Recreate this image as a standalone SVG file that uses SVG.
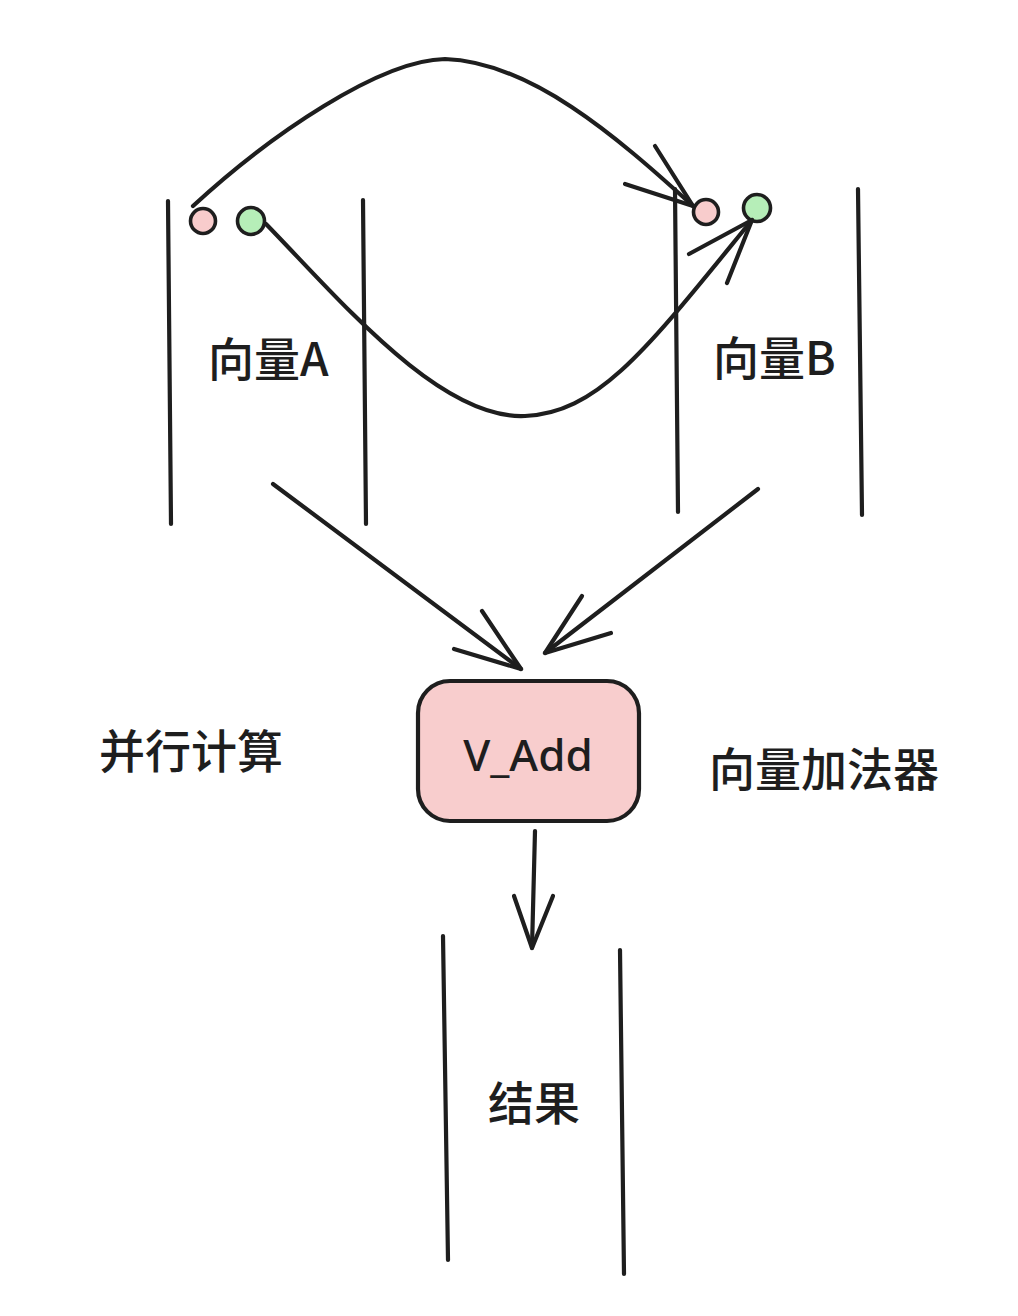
<svg xmlns="http://www.w3.org/2000/svg" width="1018" height="1316" viewBox="0 0 1018 1316">
<style>
.ln{fill:none;stroke:#1e1e1e;stroke-width:4.2;stroke-linecap:round;stroke-linejoin:round}
.lbl{font-family:"Noto Sans CJK SC","Noto Sans",sans-serif;font-size:46px;font-weight:500;fill:#1e1e1e}
.pk{fill:#f8cccc;stroke:#1e1e1e;stroke-width:3.6}
.gn{fill:#b6eeb8;stroke:#1e1e1e;stroke-width:3.6}
</style>
<rect width="1018" height="1316" fill="#ffffff"/>
<g id="vectorA">
<path class="ln" d="M168,201 L171,524"/>
<path class="ln" d="M363,200 L366,524"/>
<circle class="pk" cx="203" cy="221" r="12.5"/>
<circle class="gn" cx="251" cy="221" r="13.5"/>
<text class="lbl" x="208" y="376">向量A</text>
</g>
<g id="vectorB">
<path class="ln" d="M675,189 L678,512"/>
<path class="ln" d="M858,189 L862,515"/>
<circle class="pk" cx="706" cy="212" r="12.5"/>
<circle class="gn" cx="757" cy="208" r="13.5"/>
<text class="lbl" x="713" y="375">向量B</text>
</g>
<g id="vadd">
<rect x="418" y="681" width="221" height="140" rx="32" fill="#f8cdcd" stroke="#1e1e1e" stroke-width="4.2"/>
<text x="528" y="771" text-anchor="middle" font-family="Noto Sans, Liberation Sans, sans-serif" font-weight="500" font-size="44" fill="#1e1e1e">V_Add</text>
</g>
<g id="label-parallel">
<text class="lbl" x="99" y="768">并行计算</text>
</g>
<g id="label-adder">
<text class="lbl" x="709" y="786">向量加法器</text>
</g>
<g id="result">
<path class="ln" d="M443,936 L448,1260"/>
<path class="ln" d="M620,950 L624,1274"/>
<text class="lbl" x="488" y="1120">结果</text>
</g>
<g id="connectors">
<path class="ln" d="M193,206 C270,135 380,60 445,59 C530,62 615,135 693,206"/>
<path class="ln" d="M655,146 L693,206 L625,184"/>
<path class="ln" d="M266,224 C340,300 440,420 525,416 C600,413 650,345 752,220"/>
<path class="ln" d="M689,254 L752,220 L727,283"/>
<path class="ln" d="M273,484 L521,669"/>
<path class="ln" d="M482,611 L521,669 L454,649"/>
<path class="ln" d="M758,489 L545,653"/>
<path class="ln" d="M582,596 L545,653 L611,633"/>
<path class="ln" d="M535,831 L532,948"/>
<path class="ln" d="M514,896 L532,948 L553,896"/>
</g>
</svg>
